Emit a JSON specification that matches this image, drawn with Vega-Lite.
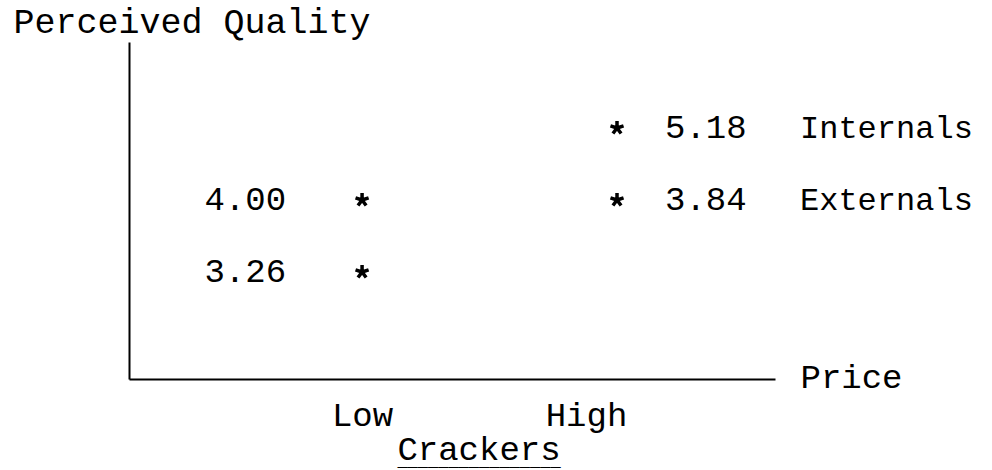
{
  "$schema": "https://vega.github.io/schema/vega-lite/v6.json",
  "width": 646,
  "height": 337,
  "autosize": {"type": "none"},
  "padding": {"left": 129, "top": 42, "right": 217, "bottom": 91},
  "background": "white",
  "config": {
    "view": {"stroke": null},
    "font": "Liberation Mono",
    "text": {"font": "Liberation Mono", "fontSize": 34, "color": "black"}
  },
  "title": {
    "text": "Crackers",
    "subtitle": "________________",
    "orient": "bottom",
    "anchor": "middle",
    "font": "Liberation Mono",
    "fontSize": 34,
    "fontWeight": "normal",
    "color": "black",
    "subtitleFont": "Liberation Mono",
    "subtitleFontSize": 17,
    "subtitleFontWeight": "bold",
    "subtitleColor": "black",
    "subtitlePadding": -14,
    "dx": 27,
    "offset": 1
  },
  "data": {
    "values": [
      {"source": "Internals", "price": "Low", "quality": 3.26, "rank": "third"},
      {"source": "Externals", "price": "Low", "quality": 4.00, "rank": "second"},
      {"source": "Internals", "price": "High", "quality": 5.18, "rank": "first"},
      {"source": "Externals", "price": "High", "quality": 3.84, "rank": "second"}
    ]
  },
  "encoding": {
    "x": {
      "field": "price",
      "type": "nominal",
      "scale": {"type": "point", "domain": ["Low", "High"], "padding": 0.767, "align": 0.596},
      "axis": {
        "orient": "bottom",
        "domain": true,
        "domainColor": "black",
        "domainWidth": 2,
        "ticks": false,
        "tickSize": 0,
        "grid": false,
        "labelAngle": 0,
        "labelFont": "Liberation Mono",
        "labelFontSize": 34,
        "labelColor": "black",
        "labelBaseline": "alphabetic",
        "labelPadding": 46,
        "labelOffset": {"condition": {"test": "datum.value === 'High'", "value": -31}, "value": 0},
        "title": "Price",
        "titleFont": "Liberation Mono",
        "titleFontSize": 34,
        "titleFontWeight": "normal",
        "titleColor": "black",
        "titleAngle": 0,
        "titleAlign": "left",
        "titleBaseline": "alphabetic",
        "titleX": 671,
        "titleY": 8
      }
    },
    "y": {
      "field": "rank",
      "type": "nominal",
      "scale": {"type": "band", "domain": ["first", "second", "third"], "paddingInner": 0, "paddingOuter": 0.84, "align": 0.413},
      "axis": {
        "orient": "left",
        "domain": true,
        "domainColor": "black",
        "domainWidth": 2,
        "ticks": false,
        "tickSize": 0,
        "labels": false,
        "grid": false,
        "title": "Perceived Quality",
        "titleFont": "Liberation Mono",
        "titleFontSize": 35,
        "titleFontWeight": "normal",
        "titleColor": "black",
        "titleAngle": 0,
        "titleAlign": "left",
        "titleBaseline": "alphabetic",
        "titleX": -116,
        "titleY": -10
      }
    }
  },
  "layer": [
    {
      "mark": {
        "type": "point",
        "shape": "M0,0L0,-1M0,0L0.95,-0.31M0,0L0.59,0.81M0,0L-0.59,0.81M0,0L-0.95,-0.31",
        "filled": false,
        "stroke": "black",
        "strokeWidth": 3.5,
        "size": 190,
        "opacity": 1
      }
    },
    {
      "transform": [{"filter": "datum.price === 'Low'"}],
      "mark": {"type": "text", "align": "right", "baseline": "middle", "dx": -76},
      "encoding": {"text": {"field": "quality", "type": "quantitative", "format": ".2f"}}
    },
    {
      "transform": [{"filter": "datum.price === 'High'"}],
      "mark": {"type": "text", "align": "left", "baseline": "middle", "dx": 48},
      "encoding": {"text": {"field": "quality", "type": "quantitative", "format": ".2f"}}
    },
    {
      "transform": [{"filter": "datum.price === 'High'"}],
      "mark": {"type": "text", "align": "left", "baseline": "middle", "dx": 183, "fontSize": 32},
      "encoding": {"text": {"field": "source", "type": "nominal"}}
    }
  ]
}
